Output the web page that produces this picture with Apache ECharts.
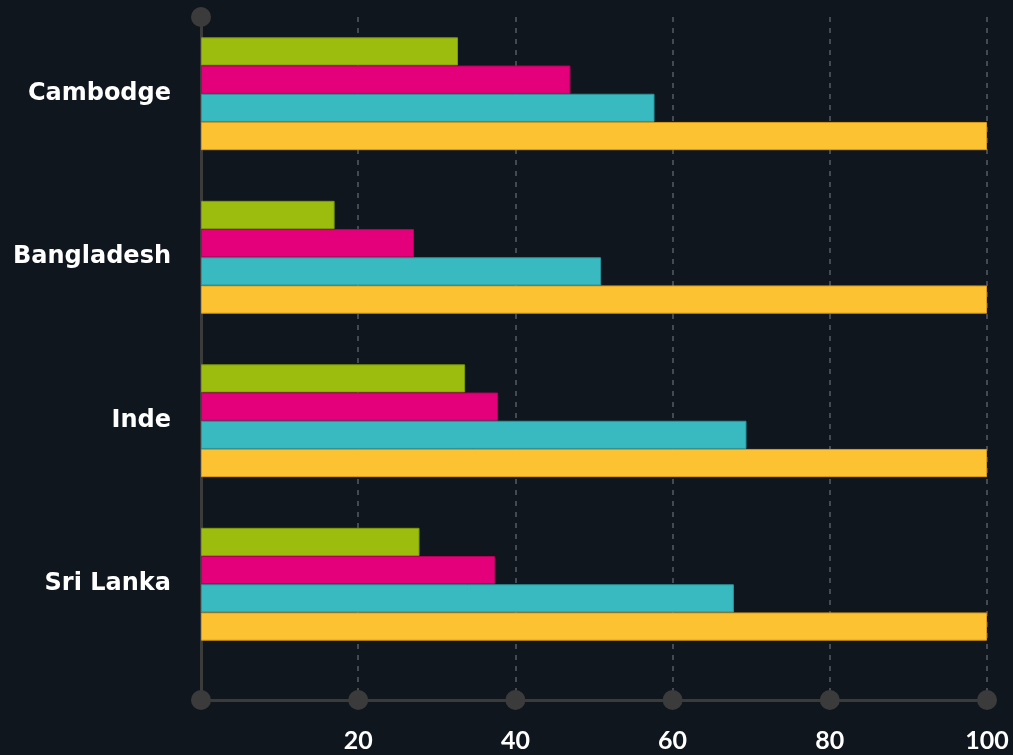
<!DOCTYPE html>
<html>
<head>
<meta charset="utf-8">
<script src="https://cdn.jsdelivr.net/npm/echarts@6/dist/echarts.min.js"></script>
<style>
html,body{margin:0;padding:0;background:#10161e;}
#chart{width:1013px;height:755px;}
</style>
</head>
<body>
<div id="chart"></div>
<script>
var categories = ['Cambodge', 'Bangladesh', 'Inde', 'Sri Lanka'];
var greenValues = [32.7, 17.0, 33.6, 27.8];
var pinkValues = [47.0, 27.1, 37.8, 37.4];
var tealValues = [57.7, 50.9, 69.4, 67.8];
var yellowValues = [100, 100, 100, 100];
var xTicks = [0, 20, 40, 60, 80, 100];

var axisColor = '#3b3b3c';
var tickFont = 'Lato, "Open Sans", sans-serif';
var catFont = '"DejaVu Sans", sans-serif';

var chart = echarts.init(document.getElementById('chart'));

function barSeries(name, data, color, border) {
  return {
    name: name, type: 'bar', xAxisIndex: 0, yAxisIndex: 0,
    data: data, barGap: '0%', barCategoryGap: '31%',
    itemStyle: { color: color, borderColor: border, borderWidth: 1 },
    z: 2
  };
}

var option = {
  backgroundColor: '#10161e',
  animation: false,
  grid: [
    { left: 201, right: 26, top: 12, height: 654, containLabel: false },
    { left: 201, right: 26, top: 17, bottom: 55, containLabel: false }
  ],
  xAxis: [
    { gridIndex: 0, type: 'value', min: 0, max: 100, show: false },
    {
      gridIndex: 1, type: 'value', min: 0, max: 100, interval: 20,
      axisLine: { show: true, lineStyle: { color: axisColor, width: 3 } },
      axisTick: { show: false },
      splitLine: { show: true, lineStyle: { color: '#565c66', type: [5, 6], width: 1.5 } },
      axisLabel: {
        color: '#ffffff', fontSize: 25, fontWeight: 'bold', fontFamily: tickFont, margin: 28,
        formatter: function (v) { return v === 0 ? '' : String(v); }
      }
    }
  ],
  yAxis: [
    {
      gridIndex: 0, type: 'category', data: categories, inverse: true,
      axisLine: { show: false }, axisTick: { show: false }, splitLine: { show: false },
      axisLabel: { color: '#ffffff', fontSize: 24, fontWeight: 'bold', fontFamily: catFont, margin: 30,
        padding: [4, 0, 0, 0] }
    },
    {
      gridIndex: 1, type: 'value', min: 0, max: 1,
      axisLine: { show: true, lineStyle: { color: axisColor, width: 3 } },
      axisTick: { show: false }, axisLabel: { show: false }, splitLine: { show: false }
    }
  ],
  series: [
    barSeries('s1', greenValues, '#9cbd0d', '#7f9a0a'),
    barSeries('s2', pinkValues, '#e5007b', '#b8005f'),
    barSeries('s3', tealValues, '#39b9c0', '#2a969c'),
    barSeries('s4', yellowValues, '#fcc232', '#d89a1c'),
    {
      type: 'scatter', xAxisIndex: 1, yAxisIndex: 1,
      data: xTicks.map(function (v) { return [v, 0]; }).concat([[0, 1]]),
      symbol: 'circle', symbolSize: 20, clip: false,
      itemStyle: { color: axisColor, opacity: 1 },
      z: 5, silent: true
    }
  ]
};
chart.setOption(option);
</script>
</body>
</html>
